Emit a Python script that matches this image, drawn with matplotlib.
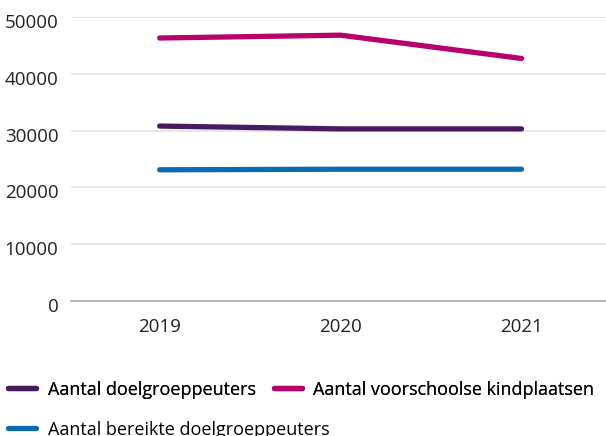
import matplotlib
matplotlib.use("Agg")
import matplotlib.pyplot as plt
from matplotlib.transforms import ScaledTranslation

years = ["2019", "2020", "2021"]
doelgroep = [30800, 30300, 30300]
kindplaatsen = [46300, 46800, 42700]
bereikt = [23100, 23200, 23200]

labels = ["Aantal doelgroeppeuters", "Aantal voorschoolse kindplaatsen",
          "Aantal bereikte doelgroeppeuters"]
colors = ["#4a1a5f", "#b8006b", "#0a6bb3"]
yticks = [0, 10000, 20000, 30000, 40000, 50000]

plt.rcParams['font.family'] = ['Open Sans', 'DejaVu Sans']

fig = plt.figure(figsize=(6.06, 4.36), dpi=100)
ax = fig.add_axes([71/606, 1-301/436, (612-71)/606, (301-17)/436])

x = list(range(len(years)))
lines = []
for vals, c, lab in zip([doelgroep, kindplaatsen, bereikt], colors, labels):
    l, = ax.plot(x, vals, color=c, lw=3.8, solid_capstyle='round',
                 solid_joinstyle='round', label=lab, zorder=3)
    lines.append(l)

ax.set_xlim(-0.49, 2.5)
ax.set_ylim(0, 50000)
ax.set_yticks(yticks)
ax.set_yticklabels([str(v) for v in yticks])
ax.set_xticks(x)
ax.set_xticklabels(years)
ax.grid(axis='y', color='#e3e3e3', lw=1.2)
ax.set_axisbelow(True)
for s in ['top', 'right', 'left']:
    ax.spines[s].set_visible(False)
ax.spines['bottom'].set_color('#b0b0b0')
ax.spines['bottom'].set_linewidth(1.3)
ax.tick_params(axis='both', length=0, labelsize=13.5, colors='#222222')
ax.tick_params(axis='y', pad=9)
ax.tick_params(axis='x', pad=12)
for t in ax.get_yticklabels():
    t.set_transform(t.get_transform() + ScaledTranslation(0, -4/100, fig.dpi_scale_trans))

lp = dict(prop={'family': ['Open Sans', 'DejaVu Sans'], 'size': 13}, frameon=False,
          handlelength=1.55, handletextpad=0.62, borderaxespad=0, borderpad=0.3)
leg1 = fig.legend(handles=lines[:2], loc='lower left', bbox_to_anchor=(0.005, 1-404/436),
                  ncol=2, columnspacing=1.0, **lp)
leg2 = fig.legend(handles=lines[2:], loc='lower left', bbox_to_anchor=(0.005, 1-444/436),
                  ncol=1, **lp)
fig.add_artist(leg1)

fig.savefig("out.png", dpi=100)
